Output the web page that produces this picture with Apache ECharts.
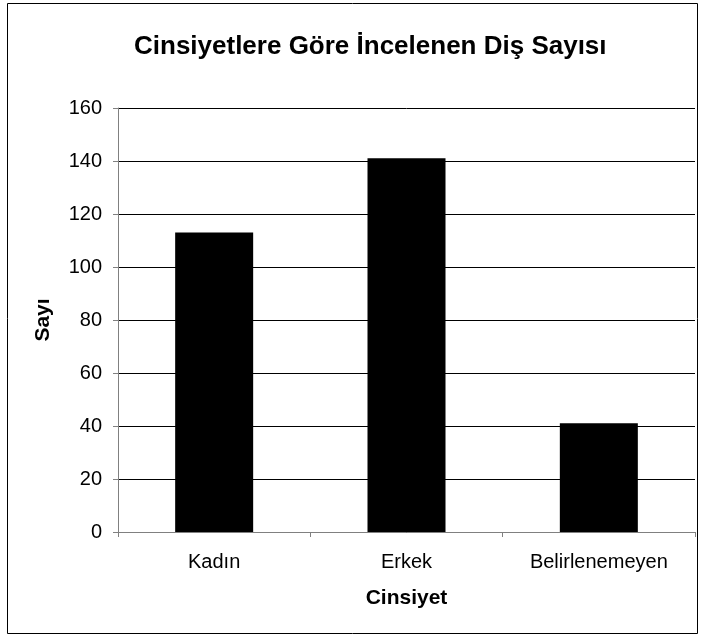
<!DOCTYPE html>
<html>
<head>
<meta charset="utf-8">
<script src="https://cdn.jsdelivr.net/npm/echarts@6/dist/echarts.min.js"></script>
<style>
html, body { margin: 0; padding: 0; background: #fff; }
#main { width: 701px; height: 635px; }
</style>
</head>
<body>
<div id="main"></div>
<script>
var categories = ['Kadın', 'Erkek', 'Belirlenemeyen'];
var counts = [113, 141, 41];

var myChart = echarts.init(document.getElementById('main'));
var font = '"Liberation Sans", Arial, sans-serif';

var option = {
    animation: false,
    backgroundColor: '#fff',
    textStyle: { fontFamily: font },
    title: {
        text: 'Cinsiyetlere Göre İncelenen Diş Sayısı',
        left: 129,
        top: 29,
        textStyle: { fontFamily: font, fontSize: 26, fontWeight: 'bold', color: '#000' }
    },
    graphic: [{
        type: 'rect',
        shape: { x: 7.5, y: 3.5, width: 690, height: 630 },
        style: { fill: 'none', stroke: '#000', lineWidth: 1 }
    }],
    grid: { left: 118, right: 6, top: 108, bottom: 103 },
    xAxis: {
        type: 'category',
        data: categories,
        name: 'Cinsiyet',
        nameLocation: 'middle',
        nameGap: 56,
        nameTextStyle: { fontFamily: font, fontSize: 21, fontWeight: 'bold', color: '#000' },
        axisLine: { lineStyle: { color: '#808080' } },
        axisTick: { show: true, length: 5, lineStyle: { color: '#808080' } },
        axisLabel: { fontFamily: font, fontSize: 20, color: '#000', margin: 20 }
    },
    yAxis: {
        type: 'value',
        min: 0,
        max: 160,
        interval: 20,
        name: 'Sayı',
        nameLocation: 'middle',
        nameGap: 64,
        nameTextStyle: { fontFamily: font, fontSize: 21, fontWeight: 'bold', color: '#000' },
        axisLine: { show: true, lineStyle: { color: '#808080' } },
        axisTick: { show: true, length: 5, lineStyle: { color: '#808080' } },
        axisLabel: { fontFamily: font, fontSize: 20, color: '#000', margin: 16 },
        splitLine: { lineStyle: { color: '#000', width: 1 } }
    },
    series: [{
        type: 'bar',
        data: counts,
        barWidth: 78,
        itemStyle: { color: '#000' }
    }]
};
myChart.setOption(option);
</script>
</body>
</html>
